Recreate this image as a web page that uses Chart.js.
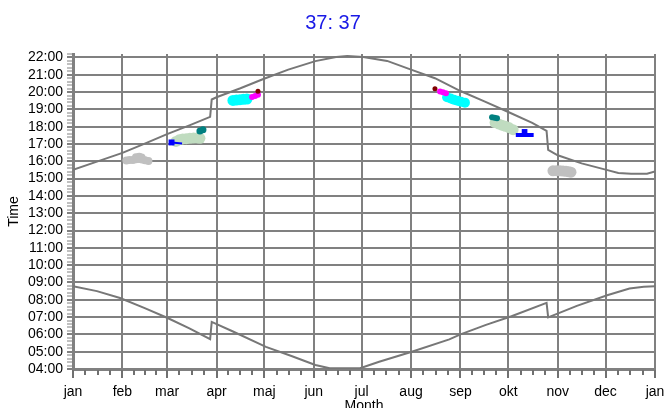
<!DOCTYPE html>
<html><head><meta charset="utf-8">
<script src="https://cdn.jsdelivr.net/npm/chart.js@4/dist/chart.umd.min.js"></script>
<style>html,body{margin:0;padding:0;background:#fff}canvas{display:block}</style>
</head><body>
<canvas id="c" width="666" height="408"></canvas>
<script>
// ---- data (x = day of year, y = hour of day) ----
const titleText = '37: 37';
const xTitle = 'Month';
const yTitle = 'Time';
const monthLabels = ['jan','feb','mar','apr','maj','jun','jul','aug','sep','okt','nov','dec','jan'];
const monthStartDays = [0,31,59,90,120,151,181,212,243,273,304,334,365];
const hourValues = [4,5,6,7,8,9,10,11,12,13,14,15,16,17,18,19,20,21,22];
const hourLabels = ['04:00','05:00','06:00','07:00','08:00','09:00','10:00','11:00','12:00','13:00','14:00','15:00','16:00','17:00','18:00','19:00','20:00','21:00','22:00'];

const sunsetDays  = [0,15,31,45,59,73,86,87,90,105,119,135,152,165,172,182,197,212,227,243,258,273,288,297,298,304,319,334,342,350,360,365];
const sunsetHours = [15.51,15.98,16.49,17.02,17.57,18.08,18.57,19.57,19.70,20.22,20.74,21.30,21.79,22.03,22.08,22.03,21.80,21.30,20.80,20.06,19.46,18.85,18.22,17.76,16.66,16.35,15.88,15.52,15.32,15.28,15.28,15.42];

const sunriseDays  = [0,15,29.5,45,59,73,86,87,100,121,137,152,161,180,192,212,236,243,259,275,297,298,316,335,349,358,365];
const sunriseHours = [8.78,8.50,8.10,7.52,6.96,6.35,5.72,6.72,6.18,5.28,4.75,4.23,4.04,4.04,4.42,4.98,5.71,6.00,6.55,7.05,7.82,6.98,7.65,8.26,8.65,8.75,8.78];

// observation clusters: [day, hour]
const grayEarly    = [[33.5,16.05],[35.5,16.07],[37.6,16.08],[39.5,16.12],[41.4,16.14],[43.3,16.10],[45.2,16.06],[47.3,16.02],[39.5,16.24],[41.5,16.27],[43.0,16.22]];
const blueEarly    = [[61.8,17.09],[68.4,17.03]];
const greenEarly   = [[64.6,17.15],[66.6,17.24],[68.8,17.29],[71.0,17.31],[73.3,17.33],[75.6,17.34],[77.8,17.35],[79.6,17.33]];
const tealEarly    = [[79.6,17.75],[81.5,17.83]];
const cyanEarly    = [[100.3,19.52],[102.5,19.54],[104.7,19.56],[106.9,19.58],[109.1,19.60]];
const magentaEarly = [[112.3,19.72],[114.2,19.78],[116.0,19.84]];
const redEarly     = [[116.0,20.05]];

const redLate      = [[227.0,20.19]];
const magentaLate  = [[230.2,20.04],[232.0,19.99],[233.9,19.93]];
const cyanLate     = [[234.6,19.70],[236.8,19.63],[238.9,19.56],[241.1,19.50],[243.3,19.44],[245.8,19.39]];
const tealLate     = [[262.8,18.55],[264.4,18.52],[265.9,18.49]];
const greenLate    = [[264.7,18.24],[266.9,18.16],[269.0,18.09],[271.2,18.02],[273.4,17.95],[276.0,17.83]];
const blueLate     = [[277.7,17.52],[288.9,17.52]];
const blueLateTop  = [[283.2,17.70]];
const grayLate     = [[301.0,15.45],[303.2,15.46],[305.4,15.45],[307.3,15.44],[309.2,15.42],[311.0,15.39],[312.3,15.37]];

// ---- build chart ----
const FONT = "'Liberation Sans', Arial, sans-serif";
const GRID = '#808080';
const toXY = arr => arr.map(p => ({x: p[0], y: p[1]}));
const zipXY = (xs, ys) => xs.map((x, i) => ({x, y: ys[i]}));
const isInt = v => Math.abs(v - Math.round(v)) < 1e-6;
const isMonth = v => monthStartDays.some(d => Math.abs(d - v) < 1e-6);

function cluster(data, color, r, style) {
  return {data: toXY(data), backgroundColor: color, borderColor: color, borderWidth: 0,
    pointRadius: r, pointHoverRadius: r, pointStyle: style || 'circle', showLine: false};
}

const datasets = [
  {data: zipXY(sunsetDays, sunsetHours), showLine: true, borderColor: '#777777', borderWidth: 2, pointRadius: 0, tension: 0},
  {data: zipXY(sunriseDays, sunriseHours), showLine: true, borderColor: '#777777', borderWidth: 2, pointRadius: 0, tension: 0},
  cluster(redEarly, 'rgb(128,0,0)', 2.5),
  cluster(magentaEarly, 'rgb(255,0,255)', 3),
  cluster(cyanEarly, 'rgb(0,255,255)', 5.5),
  cluster(tealEarly, 'rgb(0,128,128)', 3.5),
  {data: toXY(blueEarly), showLine: true, borderColor: 'rgb(0,0,255)', backgroundColor: 'rgb(0,0,255)', borderWidth: 2,
    pointStyle: 'rect', pointRadius: c => c.dataIndex === 0 ? 4.2 : 0, pointBorderWidth: 0},
  cluster(greenEarly, 'rgb(192,220,192)', 5.5),
  cluster(grayEarly, 'rgb(192,192,192)', 4),
  cluster(redLate, 'rgb(128,0,0)', 2.5),
  cluster(magentaLate, 'rgb(255,0,255)', 3),
  cluster(cyanLate, 'rgb(0,255,255)', 5),
  cluster(tealLate, 'rgb(0,128,128)', 3),
  {data: toXY(blueLate), showLine: true, borderColor: 'rgb(0,0,255)', borderWidth: 4, pointRadius: 0},
  cluster(blueLateTop, 'rgb(0,0,255)', 4, 'rect'),
  cluster(greenLate, 'rgb(192,220,192)', 5.5),
  cluster(grayLate, 'rgb(192,192,192)', 5.5),
];

// tick marks below the x axis (longer at month starts), placed through the x scale
const xTickMarks = {
  id: 'xTickMarks',
  afterDraw(chart) {
    const s = chart.scales.x, ctx = chart.ctx;
    ctx.save();
    ctx.strokeStyle = '#707070';
    ctx.lineWidth = 2;
    s.ticks.forEach(t => {
      const major = isMonth(t.value);
      const px = Math.round(s.getPixelForValue(t.value));
      ctx.beginPath();
      ctx.moveTo(px, s.top + 1);
      ctx.lineTo(px, s.top + (major ? 9 : 6));
      ctx.stroke();
    });
    ctx.restore();
  }
};

new Chart(document.getElementById('c'), {
  type: 'scatter',
  data: {datasets},
  plugins: [xTickMarks],
  options: {
    responsive: false, animation: false, devicePixelRatio: 1,
    layout: {padding: {left: 0, right: 0, top: 0, bottom: 0}},
    plugins: {
      legend: {display: false}, tooltip: {enabled: false},
      title: {display: true, text: titleText, color: 'rgb(25,25,230)',
        font: {family: FONT, size: 20, weight: 'normal'}, padding: {top: 11, bottom: 19}}
    },
    scales: {
      x: {
        type: 'linear', min: 0, max: 365,
        afterBuildTicks: s => {
          const t = [];
          for (let i = 0; i < monthStartDays.length; i++) {
            t.push({value: monthStartDays[i]});
            if (i < monthStartDays.length - 1) {
              const len = monthStartDays[i+1] - monthStartDays[i];
              for (let k = 1; k < 4; k++) t.push({value: monthStartDays[i] + len * k / 4});
            }
          }
          s.ticks = t;
        },
        afterFit: s => { s.height = 39; s.paddingRight = 11; },
        ticks: {autoSkip: false, maxRotation: 0, padding: 6, color: '#000',
          font: {family: FONT, size: 14},
          callback: v => { const i = monthStartDays.findIndex(d => Math.abs(d - v) < 1e-6); return i >= 0 ? monthLabels[i] : ''; }},
        grid: {color: c => isMonth(c.tick.value) ? GRID : 'rgba(0,0,0,0)', lineWidth: 2,
          tickColor: 'rgba(0,0,0,0)', tickLength: 9, tickWidth: 2},
        border: {color: GRID, width: 3},
        title: {display: true, text: xTitle, color: '#000', font: {family: FONT, size: 14}, padding: {top: 0, bottom: -7}}
      },
      y: {
        type: 'linear', min: 4, max: 22.2,
        afterBuildTicks: s => {
          const t = [];
          for (let i = 0; i <= 91; i++) t.push({value: Math.round((4 + i * 0.2) * 10) / 10});
          s.ticks = t;
        },
        afterFit: s => { s.width = 73; },
        ticks: {autoSkip: false, padding: 4, color: '#000', font: {family: FONT, size: 14},
          callback: v => { const i = hourValues.findIndex(h => Math.abs(h - v) < 1e-6); return i >= 0 ? hourLabels[i] : ''; }},
        grid: {color: c => isInt(c.tick.value) ? GRID : 'rgba(0,0,0,0)', lineWidth: 2,
          tickColor: GRID, tickLength: 6, tickWidth: c => isInt(c.tick.value) ? 2 : 1},
        border: {color: GRID, width: 3},
        title: {display: true, text: yTitle, color: '#000', font: {family: FONT, size: 14}, padding: {top: 6, bottom: 0}}
      }
    }
  }
});
</script>
</body></html>
